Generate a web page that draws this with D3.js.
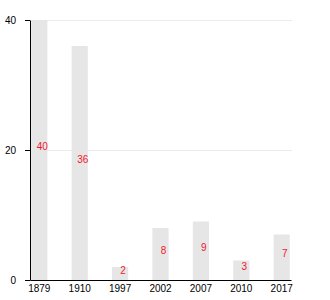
<!DOCTYPE html>
<html>
<head>
<meta charset="utf-8">
<script src="https://cdn.jsdelivr.net/npm/d3@7"></script>
<style>
    body { margin: 0; background: #fff; }
    svg { display: block; font-family: "Liberation Sans", Arial, sans-serif; }
    .grid line { stroke: #ececec; }
    .axis path, .axis line { stroke: #000; }
    .axis text { font-size: 10px; fill: #000; }
</style>
</head>
<body>
<div id="chart"></div>
<script>
/*
 * Chart data.
 */
var years = ['1879', '1910', '1997', '2002', '2007', '2010', '2017'];
var counts = [40, 36, 2, 8, 9, 3, 7];
var yTicks = [0, 20, 40];

var width = 330,
    height = 300,
    margin = {top: 20, right: 39, bottom: 20, left: 30};

var svg = d3.select('#chart').append('svg')
    .attr('width', width)
    .attr('height', height);

var x = d3.scaleBand()
    .domain(years)
    .range([margin.left, width - margin.right])
    .paddingInner(0.6)
    .paddingOuter(0.03);

var y = d3.scaleLinear()
    .domain([0, 40])
    .range([height - margin.bottom, margin.top]);

/*
 * Horizontal grid lines.
 */
svg.append('g')
    .attr('class', 'grid')
    .selectAll('line')
    .data(yTicks.filter(d => d > 0))
    .join('line')
    .attr('x1', margin.left)
    .attr('x2', width - margin.right + 1)
    .attr('y1', d => y(d) + 0.5)
    .attr('y2', d => y(d) + 0.5);

/*
 * Bars.
 */
svg.append('g')
    .selectAll('rect')
    .data(counts)
    .join('rect')
    .attr('x', (d, i) => x(years[i]))
    .attr('y', d => y(d))
    .attr('width', x.bandwidth())
    .attr('height', d => y(0) - y(d))
    .attr('fill', '#e6e6e6');

/*
 * Value labels, baseline at the middle of each bar.
 */
svg.append('g')
    .selectAll('text')
    .data(counts)
    .join('text')
    .attr('x', (d, i) => x(years[i]) + x.bandwidth() / 2 + 3)
    .attr('y', d => (y(d) + y(0)) / 2)
    .attr('text-anchor', 'middle')
    .attr('font-size', 10)
    .attr('fill', '#f0192f')
    .text(d => d);

/*
 * Axes.
 */
svg.append('g')
    .attr('class', 'axis')
    .attr('transform', 'translate(0,' + y(0) + ')')
    .call(d3.axisBottom(x).tickSize(0).tickPadding(4.5).tickSizeOuter(0));

svg.append('g')
    .attr('class', 'axis')
    .attr('transform', 'translate(' + margin.left + ',0)')
    .call(d3.axisLeft(y).tickValues(yTicks).tickSize(5).tickPadding(9).tickSizeOuter(0));
</script>
</body>
</html>
